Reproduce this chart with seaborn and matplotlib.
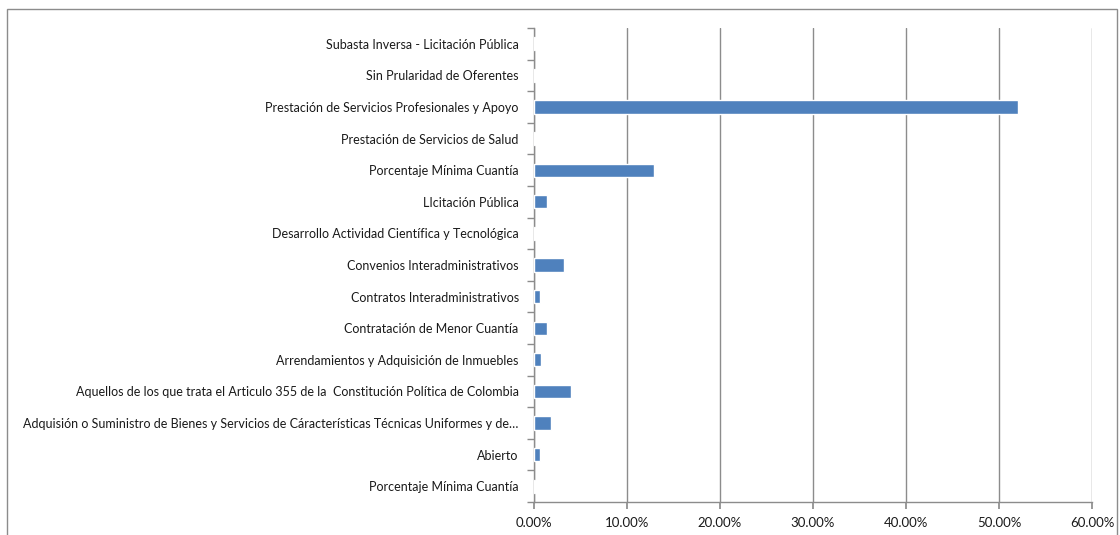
import matplotlib
matplotlib.use("Agg")
import matplotlib.pyplot as plt
import seaborn as sns
import numpy as np
import pandas as pd
from matplotlib.ticker import FuncFormatter, FixedLocator
from matplotlib.patches import Rectangle

# categories listed top to bottom, as shown
labels = [
    "Subasta Inversa - Licitación Pública",
    "Sin Prularidad de Oferentes",
    "Prestación de Servicios Profesionales y Apoyo",
    "Prestación de Servicios de Salud",
    "Porcentaje Mínima Cuantía",
    "LIcitación Pública",
    "Desarrollo Actividad Científica y Tecnológica",
    "Convenios Interadministrativos",
    "Contratos Interadministrativos",
    "Contratación de Menor Cuantía",
    "Arrendamientos y Adquisición de Inmuebles",
    "Aquellos de los que trata el Articulo 355 de la  Constitución Política de Colombia",
    "Adquisión o Suministro de Bienes y Servicios de Cáracterísticas Técnicas Uniformes y de…",
    "Abierto",
    "Porcentaje Mínima Cuantía",
]
shares = [0.001, 0.001, 0.520, 0.001, 0.129, 0.0137, 0.001, 0.0326,
          0.0065, 0.0137, 0.0079, 0.0394, 0.018, 0.0065, 0.001]
xticks = [0.0, 0.1, 0.2, 0.3, 0.4, 0.5, 0.6]

sns.set_theme(style="white")
plt.rcParams["font.family"] = ["Lato", "DejaVu Sans"]

df = pd.DataFrame({"slot": [str(i) for i in range(len(labels))], "share": shares})

fig = plt.figure(figsize=(11.2, 5.35), dpi=100)
ax = fig.add_axes([534 / 1120, 1 - 502 / 535, (1092 - 534) / 1120, (502 - 28) / 535])

sns.barplot(data=df, x="share", y="slot", orient="h", color="#4F81BD",
            saturation=1, width=0.42, ax=ax, zorder=3)

ax.set_xlim(0, 0.6)
ax.set_ylim(len(labels) - 0.5, -0.5)
ax.xaxis.set_major_locator(FixedLocator(xticks))
ax.xaxis.set_major_formatter(FuncFormatter(lambda v, p: f"{v * 100:.2f}%"))
ax.set_yticks(range(len(labels)))
ax.set_yticklabels(labels)
ax.yaxis.set_minor_locator(FixedLocator(np.arange(-0.5, len(labels), 1.0)))
ax.set_xlabel("")
ax.set_ylabel("")

ax.grid(axis="x", color="#8c8c8c", linewidth=1, zorder=0)
ax.set_axisbelow(True)
for side in ["top", "right"]:
    ax.spines[side].set_visible(False)
for side in ["left", "bottom"]:
    ax.spines[side].set_color("#8c8c8c")
    ax.spines[side].set_linewidth(1)

ax.tick_params(axis="y", which="major", length=0, pad=11, labelsize=9, labelcolor="#1a1a1a")
ax.tick_params(axis="y", which="minor", length=5, color="#8c8c8c", left=True)
ax.tick_params(axis="x", which="major", length=5, color="#8c8c8c", bottom=True,
               pad=6, labelsize=9.5, labelcolor="#1a1a1a")

# outer chart border (bottom edge falls outside the picture)
fig.patches.append(Rectangle((7 / 1120, -0.01), 1 - 10 / 1120, 1 - 9 / 535 + 0.01,
                             transform=fig.transFigure, fill=False,
                             edgecolor="#8c8c8c", linewidth=1))

fig.savefig("out.png", dpi=100)
